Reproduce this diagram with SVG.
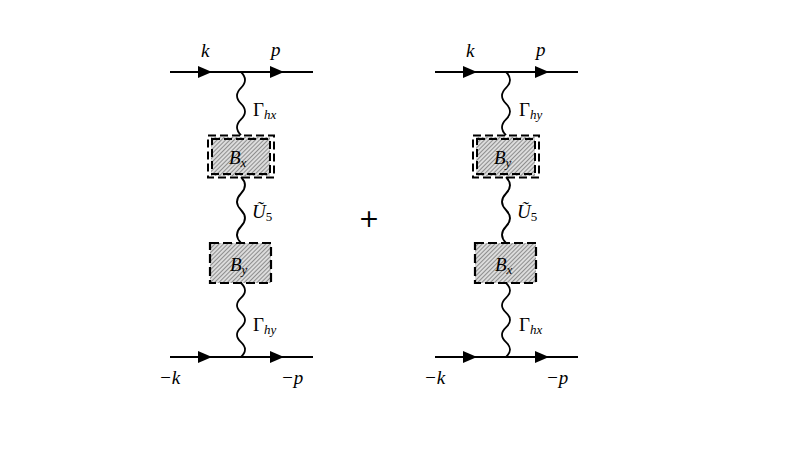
<svg xmlns="http://www.w3.org/2000/svg" width="800" height="450" viewBox="0 0 800 450">
<style>
.ln{stroke:#000;stroke-width:2;fill:none}
.wv{stroke:#000;stroke-width:1.8;fill:none}
.arr{fill:#000}
.d1{fill:none;stroke:#000;stroke-width:2;stroke-dasharray:8 4}
.d2{fill:none;stroke:#000;stroke-width:2.2;stroke-dasharray:9 4}
.hat{fill:url(#hatch)}
text{font-family:"Liberation Serif","DejaVu Serif",serif;fill:#000}
.m{font-style:italic;font-size:19px}
.r{font-size:19px}
.s{font-style:italic;font-size:13px}
.s5{font-size:13px}
</style>
<defs>
<pattern id="hatch" width="3" height="3" patternUnits="userSpaceOnUse" patternTransform="rotate(45)">
<rect width="3" height="3" fill="#dcdcdc"/>
<line x1="0.5" y1="0" x2="0.5" y2="3" stroke="#8e8e8e" stroke-width="1"/>
</pattern>
<polygon id="tri" points="-7,-6 7,0 -7,6"/>
</defs>
<rect width="800" height="450" fill="#fff"/>

<g id="connectors">
<!-- left diagram -->
<line class="ln" x1="170" y1="72" x2="313" y2="72"/>
<line class="ln" x1="170" y1="357" x2="313" y2="357"/>
<use href="#tri" x="205" y="72" class="arr"/>
<use href="#tri" x="277" y="72" class="arr"/>
<use href="#tri" x="205" y="357" class="arr"/>
<use href="#tri" x="277" y="357" class="arr"/>
<path class="wv" d="M241,72 q8,7.9 0,15.8 t0,15.8 t0,15.8 t0,15.8"/>
<path class="wv" d="M241,177 q8,8.25 0,16.5 t0,16.5 t0,16.5 t0,16.5"/>
<path class="wv" d="M241,283 q8,7.4 0,14.8 t0,14.8 t0,14.8 t0,14.8 t0,14.8"/>
<!-- right diagram -->
<line class="ln" x1="435" y1="72" x2="578" y2="72"/>
<line class="ln" x1="435" y1="357" x2="578" y2="357"/>
<use href="#tri" x="470" y="72" class="arr"/>
<use href="#tri" x="542" y="72" class="arr"/>
<use href="#tri" x="470" y="357" class="arr"/>
<use href="#tri" x="542" y="357" class="arr"/>
<path class="wv" d="M506,72 q8,7.9 0,15.8 t0,15.8 t0,15.8 t0,15.8"/>
<path class="wv" d="M506,177 q8,8.25 0,16.5 t0,16.5 t0,16.5 t0,16.5"/>
<path class="wv" d="M506,283 q8,7.4 0,14.8 t0,14.8 t0,14.8 t0,14.8 t0,14.8"/>
</g>

<g id="left-Bx">
<rect class="hat" x="211" y="137" width="59" height="39"/>
<rect class="d1" x="208" y="135.5" width="66" height="42"/>
<rect class="d1" x="212" y="139" width="58" height="35"/>
<text x="229" y="164"><tspan class="m">B</tspan><tspan class="s" dy="3">x</tspan></text>
</g>
<g id="left-By">
<rect class="hat" x="210" y="243" width="61" height="40"/>
<rect class="d2" x="210" y="243" width="61" height="40"/>
<text x="230" y="271"><tspan class="m">B</tspan><tspan class="s" dy="3">y</tspan></text>
</g>
<g id="right-By">
<rect class="hat" x="476" y="137" width="59" height="39"/>
<rect class="d1" x="473" y="135.5" width="66" height="42"/>
<rect class="d1" x="477" y="139" width="58" height="35"/>
<text x="494" y="164"><tspan class="m">B</tspan><tspan class="s" dy="3">y</tspan></text>
</g>
<g id="right-Bx">
<rect class="hat" x="475" y="243" width="61" height="40"/>
<rect class="d2" x="475" y="243" width="61" height="40"/>
<text x="495" y="271"><tspan class="m">B</tspan><tspan class="s" dy="3">x</tspan></text>
</g>

<g id="labels">
<text class="m" x="201" y="57">k</text>
<text class="m" x="271" y="56">p</text>
<text x="253" y="116"><tspan class="r">Γ</tspan><tspan class="s" dy="3">hx</tspan></text>
<text x="252" y="218"><tspan class="m">Ũ</tspan><tspan class="s5" dy="3">5</tspan></text>
<text x="253" y="331"><tspan class="r">Γ</tspan><tspan class="s" dy="3">hy</tspan></text>
<text class="m" x="159" y="384">−k</text>
<text class="m" x="281" y="384">−p</text>

<text class="m" x="466" y="57">k</text>
<text class="m" x="536" y="56">p</text>
<text x="519" y="116"><tspan class="r">Γ</tspan><tspan class="s" dy="3">hy</tspan></text>
<text x="517" y="218"><tspan class="m">Ũ</tspan><tspan class="s5" dy="3">5</tspan></text>
<text x="519" y="331"><tspan class="r">Γ</tspan><tspan class="s" dy="3">hx</tspan></text>
<text class="m" x="424" y="384">−k</text>
<text class="m" x="546" y="384">−p</text>

<text x="369" y="227" font-size="25" text-anchor="middle" style="font-family:'DejaVu Sans','Liberation Sans',sans-serif">+</text>
</g>
</svg>
